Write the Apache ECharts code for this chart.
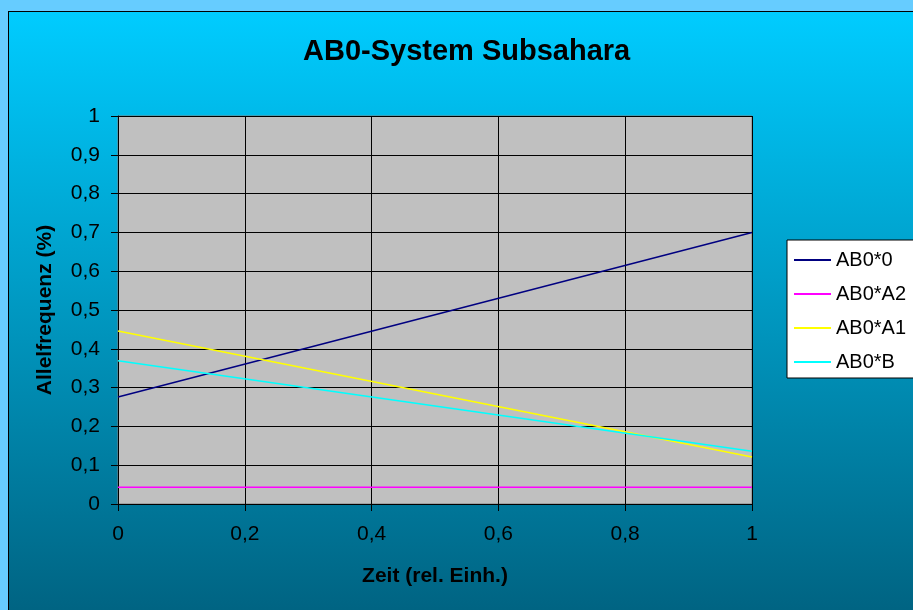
<!DOCTYPE html>
<html>
<head>
<meta charset="utf-8">
<script src="https://cdn.jsdelivr.net/npm/echarts@6/dist/echarts.min.js"></script>
<style>
  html, body { margin: 0; padding: 0; width: 913px; height: 610px; overflow: hidden; background: #66CCFF; }
  #frame {
    position: absolute; left: 8px; top: 11px; width: 920px; height: 620px;
    border-left: 1px solid #000; border-top: 1px solid #000;
    background: linear-gradient(to bottom, #00CCFF 0%, #00607E 100%);
  }
  #chart { position: absolute; left: 0; top: 0; width: 913px; height: 610px; }
</style>
</head>
<body>
<div id="frame"></div>
<div id="chart"></div>
<script>
// Time axis (relative units) and allele frequencies at start and end
const timePoints = [0, 1];
const freqAB0_0  = [0.276, 0.700];
const freqAB0_A2 = [0.043, 0.043];
const freqAB0_A1 = [0.446, 0.121];
const freqAB0_B  = [0.369, 0.136];

const seriesNames  = ['AB0*0', 'AB0*A2', 'AB0*A1', 'AB0*B'];
const seriesValues = [freqAB0_0, freqAB0_A2, freqAB0_A1, freqAB0_B];
const seriesColors = ['#000080', '#FF00FF', '#FFFF00', '#00FFFF'];

const FONT = '"Liberation Sans", Arial, sans-serif';
const comma = v => String(Math.round(v * 10) / 10).replace('.', ',');

const chart = echarts.init(document.getElementById('chart'), null, { renderer: 'canvas' });

chart.setOption({
  backgroundColor: 'transparent',
  animation: false,
  title: {
    text: 'AB0-System Subsahara',
    left: 298,
    top: 32,
    textStyle: { fontFamily: FONT, fontSize: 29, fontWeight: 'bold', color: '#000' }
  },
  grid: {
    left: 118, right: 161, top: 116, bottom: 106,
    show: true, backgroundColor: '#C0C0C0', borderColor: '#808080', borderWidth: 1
  },
  legend: {
    orient: 'vertical',
    left: 787, top: 240,
    data: seriesNames,
    icon: 'rect',
    itemWidth: 37, itemHeight: 2, itemGap: 14,
    padding: [10, 60, 6, 7],
    backgroundColor: '#FFFFFF',
    borderColor: '#000000', borderWidth: 1,
    textStyle: { fontFamily: FONT, fontSize: 20, color: '#000', lineHeight: 20 }
  },
  xAxis: {
    type: 'value', min: 0, max: 1, interval: 0.2,
    name: 'Zeit (rel. Einh.)', nameLocation: 'middle', nameGap: 62,
    nameTextStyle: { fontFamily: FONT, fontSize: 21, fontWeight: 'bold', color: '#000' },
    axisLine: { show: true, lineStyle: { color: '#000', width: 1 } },
    axisTick: { show: true, length: 7, lineStyle: { color: '#000' } },
    axisLabel: { fontFamily: FONT, fontSize: 21, color: '#000', margin: 20, formatter: comma },
    splitLine: { show: true, lineStyle: { color: '#000', width: 1 } }
  },
  yAxis: {
    type: 'value', min: 0, max: 1, interval: 0.1,
    name: 'Allelfrequenz (%)', nameLocation: 'middle', nameGap: 62, nameRotate: 90,
    nameTextStyle: { fontFamily: FONT, fontSize: 21, fontWeight: 'bold', color: '#000' },
    axisLine: { show: true, lineStyle: { color: '#000', width: 1 } },
    axisTick: { show: true, length: 7, lineStyle: { color: '#000' } },
    axisLabel: { fontFamily: FONT, fontSize: 21, color: '#000', margin: 18, formatter: comma },
    splitLine: { show: true, lineStyle: { color: '#000', width: 1 } }
  },
  series: seriesNames.map((name, i) => ({
    name: name,
    type: 'line',
    data: timePoints.map((t, k) => [t, seriesValues[i][k]]),
    symbol: 'none',
    showSymbol: false,
    color: seriesColors[i],
    lineStyle: { color: seriesColors[i], width: 1.5 }
  }))
});
</script>
</body>
</html>
